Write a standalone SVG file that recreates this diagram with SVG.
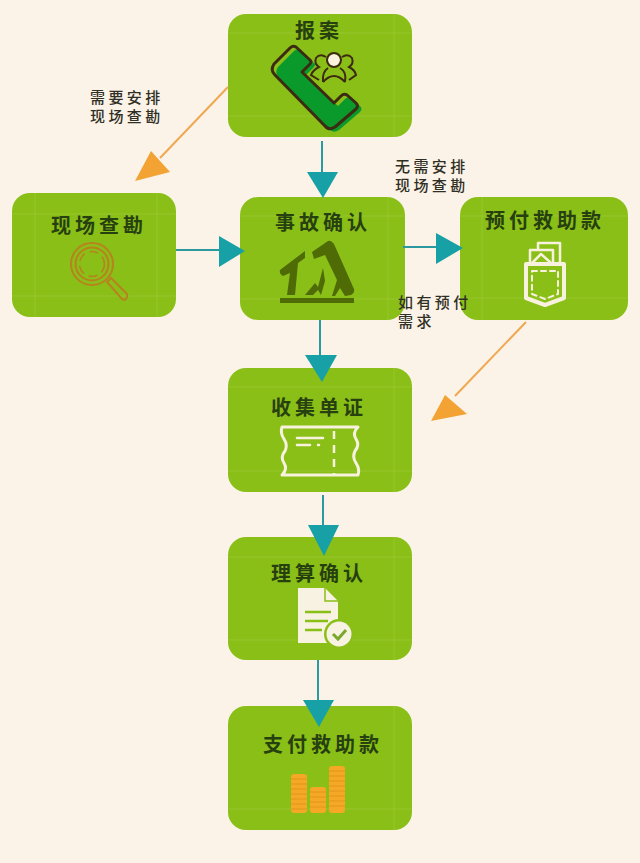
<svg xmlns="http://www.w3.org/2000/svg" width="640" height="863" viewBox="0 0 640 863">
<defs>
<path id="phone" d="M296 47Q293 45 290 48L274 64Q270 70 275 75L325 126Q329 131 335 127L356 109Q359 106 356 103L347 95Q344 93 341 96L334 103L302 72L310 64Q312 61 310 60Z"/>
</defs>
<style>
text{font-family:"Noto Sans CJK SC","Noto Sans",sans-serif}
.box{fill:#8abf18}
.guide{fill:none;stroke:#a4d040;stroke-width:1;opacity:.5}
.title{font-size:20px;letter-spacing:4px;fill:#27400f;font-weight:700}
.label{font-size:15px;letter-spacing:3.400px;fill:#2f2f24;font-weight:500}
.teal{stroke:#2a9aa0;stroke-width:2;fill:none}
.tealh{fill:#17a0a6}
.orange{stroke:#f0a850;stroke-width:2;fill:none}
.orangeh{fill:#f2a333}
.cream{fill:none;stroke:#f7f1de;stroke-width:3;stroke-linejoin:round;stroke-linecap:round}
.coin{fill:#f5a826}
.coinl{stroke:#e2951a;stroke-width:1;fill:none}
</style>
<rect width="640" height="863" fill="#fbf2e8"/>
<g id="node-baoan">
<rect class="box" x="228" y="14" width="184" height="123" rx="18"/>
<path class="guide" d="M228 33H412M228 116H412M394 14V137"/>
<text class="title" x="295" y="38">报案</text>
<use href="#phone" transform="translate(4 3)" fill="#0a9a2c"/>
<use href="#phone" fill="none" stroke="#3d2a12" stroke-width="3" stroke-linejoin="round"/>
<circle cx="334" cy="60" r="6" fill="#fbf2e0"/>
<g fill="none" stroke="#3d2a12" stroke-width="2">
<circle cx="334" cy="60" r="7"/>
<path d="M323 82Q322 72 328 68M345 82Q347 72 340 68M323 82Q334 70 345 82"/>
<path d="M326 57Q320 53 316 58Q314 64 319 67Q313 70 311 75L319 80"/>
<path d="M342 57Q348 53 352 58Q354 64 349 67Q355 70 356 75L349 80"/>
</g>
</g>
<g id="node-xianchang">
<rect class="box" x="12" y="193" width="164" height="124" rx="18"/>
<path class="guide" d="M12 214H176M12 296H176M35 193V317M157 193V317"/>
<text class="title" x="51" y="233">现场查勘</text>
<g fill="none" stroke="#b8821e">
<circle cx="92" cy="264" r="21" stroke-width="2"/>
<circle cx="92" cy="264" r="16.500" stroke-width="2"/>
<circle cx="92" cy="264" r="12.500" stroke-width="1.500" stroke-dasharray="9 5"/>
<path d="M107 282L122 299Q126 301 127 297Q128 294 125 292L111 278Z" stroke-width="2"/>
</g>
</g>
<g id="node-shigu">
<rect class="box" x="240" y="197" width="165" height="123" rx="18"/>
<path class="guide" d="M240 216H405M240 299H405M388 197V320"/>
<text class="title" x="275" y="230">事故确认</text>
<g fill="#4f6b06">
<rect x="280" y="298" width="74" height="5"/>
<path d="M280 270L305 251V258L298 263L295 295H287L290 273L283 276Q279 274 280 270Z"/>
<path d="M312 252L328 241Q331 240 334 244L354 289Q355 293 351 295L345 296L340 288L335 296H332L337 280L325 255L314 259Z"/>
<path d="M305 295L315 283L318 287L323 268L325 281L321 295L318 290L313 295Z"/>
</g>
</g>
<g id="node-yufu">
<rect class="box" x="460" y="197" width="168" height="123" rx="18"/>
<path class="guide" d="M460 216H628M460 298H628M482 197V320"/>
<text class="title" x="485" y="228">预付救助款</text>
<path class="cream" d="M526 264H564V298L545 305L526 298Z" style="stroke-width:4"/>
<path class="cream" stroke-dasharray="5 4" style="stroke-width:2" d="M532 271H558V294L545 299L532 294Z"/>
<path class="cream" d="M530 262V250H553V262M538 250V243H560V262M533 262L541 254L550 262" style="stroke-width:2.500"/>
</g>
<g id="node-shouji">
<rect class="box" x="228" y="368" width="184" height="124" rx="18"/>
<path class="guide" d="M228 387H412M228 471H412M394 368V492"/>
<text class="title" x="271" y="415">收集单证</text>
<path class="cream" d="M282 427H358Q352 433 356 439Q360 445 355 451Q352 457 356 463Q360 469 358 475H282Q288 469 284 463Q280 457 285 451Q288 445 284 439Q280 433 282 427Z"/>
<path class="cream" d="M334 431V475" stroke-dasharray="8 6" style="stroke-linecap:butt;stroke-width:2.500"/>
<path class="cream" d="M297 438H323M297 445H310M318 445H319" style="stroke-width:2.500"/>
</g>
<g id="node-lisuan">
<rect class="box" x="228" y="537" width="184" height="123" rx="18"/>
<path class="guide" d="M228 557H412M228 640H412M394 537V660"/>
<text class="title" x="271" y="581">理算确认</text>
<path d="M298 588H325L338 601V643H298Z" fill="#f8f2e2"/>
<path d="M325 588V601H338" fill="none" stroke="#8abf18" stroke-width="1.500"/>
<path d="M305 612H331M305 621H328M305 630H322" stroke="#8abf18" stroke-width="2.500" fill="none"/>
<circle cx="339" cy="634" r="15" fill="#8abf18"/>
<circle cx="339" cy="634" r="12.500" fill="#f8f2e2"/>
<path d="M333 634L338 639L346 630" fill="none" stroke="#7aa82c" stroke-width="3"/>
</g>
<g id="node-zhifu">
<rect class="box" x="228" y="706" width="184" height="124" rx="18"/>
<path class="guide" d="M228 809H412M394 706V830"/>
<text class="title" x="263" y="752">支付救助款</text>
<g class="coin">
<rect x="291" y="774" width="16" height="39" rx="3"/>
<rect x="310" y="787" width="16" height="26" rx="3"/>
<rect x="329" y="766" width="16" height="47" rx="3"/>
</g>
<path class="coinl" d="M291 779H307M291 784H307M291 789H307M291 794H307M291 799H307M291 804H307M291 809H307M310 792H326M310 797H326M310 802H326M310 807H326M329 771H345M329 776H345M329 781H345M329 786H345M329 791H345M329 796H345M329 801H345M329 806H345"/>
</g>
<g id="connectors">
<path class="teal" d="M322 141V172"/><path class="tealh" d="M307 172H338L323 198Z"/>
<path class="teal" d="M176 250H219"/><path class="tealh" d="M219 236V267L245 251Z"/>
<path class="teal" d="M403 247H436"/><path class="tealh" d="M436 233V264L463 248Z"/>
<path class="teal" d="M320 320V355"/><path class="tealh" d="M305 355H337L322 382Z"/>
<path class="teal" d="M323 495V525"/><path class="tealh" d="M308 525H339L324 556Z"/>
<path class="teal" d="M318 660V700"/><path class="tealh" d="M303 700H334L319 727Z"/>
<path class="orange" d="M228 87L160 158"/><path class="orangeh" d="M135 181L151 151L170 172Z"/>
<path class="orange" d="M526 322L455 396"/><path class="orangeh" d="M431 421L445 395L467 414Z"/>
</g>
<g id="labels">
<text class="label"><tspan x="90" y="103">需要安排</tspan><tspan x="90" y="122">现场查勘</tspan></text>
<text class="label"><tspan x="395" y="172">无需安排</tspan><tspan x="395" y="191">现场查勘</tspan></text>
<text class="label"><tspan x="398" y="308">如有预付</tspan><tspan x="398" y="327">需求</tspan></text>
</g>
</svg>
